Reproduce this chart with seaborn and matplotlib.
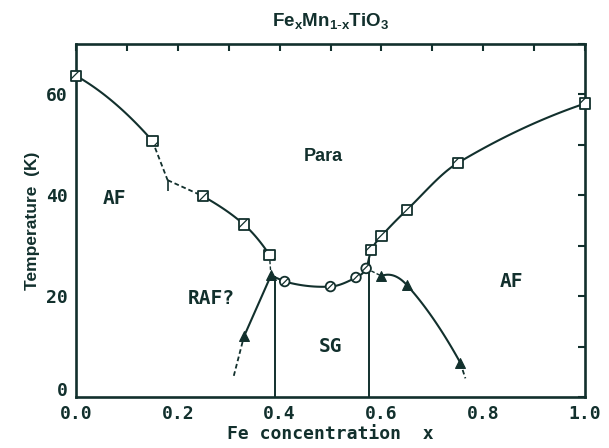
import numpy as np
import matplotlib
matplotlib.use("Agg")
import matplotlib.pyplot as plt
from matplotlib.ticker import FuncFormatter
from matplotlib.transforms import ScaledTranslation
import pandas as pd
import seaborn as sns

# ---- phase-diagram data (Fe concentration x, temperature in K) ----
# paramagnetic boundary on the Mn-rich side (squares)
para_left_x = [0.00, 0.15, 0.25, 0.33, 0.38]
para_left_T = [63.7, 50.8, 39.8, 34.2, 28.2]
# corner of the dashed stretch between x=0.15 and x=0.25, and the foot of its short drop
bend_x = 0.18
bend_T = [43.0, 40.8]
# spin-glass freezing (circles)
sg_x = [0.41, 0.50, 0.55, 0.57]
sg_T = [22.9, 21.9, 23.7, 25.5]
# paramagnetic boundary on the Fe-rich side (squares)
para_right_x = [0.58, 0.60, 0.65, 0.75, 1.00]
para_right_T = [29.1, 31.9, 37.1, 46.4, 58.2]
# reentrant transitions (triangles)
raf_left_x = [0.33, 0.383]
raf_left_T = [12.0, 24.1]
raf_right_x = [0.60, 0.65, 0.755]
raf_right_T = [24.0, 22.2, 6.8]
# dashed continuations below the lowest triangles
tail_left_x, tail_left_T = [0.31], [4.2]
tail_right_x, tail_right_T = [0.765], [3.7]
# vertical limits of the spin-glass region
sg_bound_x = [0.39, 0.575]
sg_bound_T = [24.0, 27.5]

region_text = ["Para", "AF", "RAF?", "SG", "AF"]
region_x = [0.485, 0.075, 0.265, 0.50, 0.855]
region_T = [47.7, 39.4, 19.5, 10.0, 23.0]

x_ticks = [0.0, 0.1, 0.2, 0.3, 0.4, 0.5, 0.6, 0.7, 0.8, 0.9, 1.0]
T_ticks = [0, 10, 20, 30, 40, 50, 60, 70]

INK = "#12302d"

sns.set_theme(style="white")
plt.rcParams["font.family"] = ["DejaVu Sans"]
plt.rcParams["hatch.linewidth"] = 0.9
plt.rcParams["hatch.color"] = INK


def smooth(xs, ys, n=40):
    """Cubic Hermite pieces through the points, Catmull-Rom tangents."""
    x = np.asarray(xs, float)
    y = np.asarray(ys, float)
    d = np.diff(y) / np.diff(x)
    if len(x) == 2:
        m = np.array([d[0], d[0]])
    else:
        m = np.empty_like(x)
        m[1:-1] = (y[2:] - y[:-2]) / (x[2:] - x[:-2])
        m[0] = 2 * d[0] - m[1]
        m[-1] = 2 * d[-1] - m[-2]
    t = np.linspace(0, 1, n)
    h00 = 2 * t**3 - 3 * t**2 + 1
    h10 = t**3 - 2 * t**2 + t
    h01 = -2 * t**3 + 3 * t**2
    h11 = t**3 - t**2
    pieces = []
    for i in range(len(x) - 1):
        h = x[i + 1] - x[i]
        pieces.append((x[i] + t * h,
                       h00 * y[i] + h10 * h * m[i] + h01 * y[i + 1] + h11 * h * m[i + 1]))
    return pieces


fig = plt.figure(figsize=(6.09, 4.48), dpi=100)
ax = fig.add_axes([0.1248, 0.1138, 0.9606 - 0.1248, 0.9018 - 0.1138])

lw = 1.5
dash = (0, (2.6, 1.6))

# Mn-rich paramagnetic boundary: solid, with a dashed dog-leg around x=0.18
lx = para_left_x[:2] + [bend_x] + para_left_x[2:]
lT = para_left_T[:2] + [bend_T[0]] + para_left_T[2:]
for i, (xx, yy) in enumerate(smooth(lx, lT)):
    if i in (1, 2):
        ax.plot([lx[i], lx[i + 1]], [lT[i], lT[i + 1]], color=INK, lw=1.3, ls=dash)
    else:
        ax.plot(xx, yy, color=INK, lw=lw, solid_capstyle="round")
ax.vlines(bend_x, bend_T[1], bend_T[0], color=INK, lw=1.2)

# spin-glass dome running into the Fe-rich paramagnetic boundary
for xx, yy in smooth(sg_x + para_right_x, sg_T + para_right_T):
    ax.plot(xx, yy, color=INK, lw=lw, solid_capstyle="round")

# reentrant branches
ax.plot(raf_left_x + [sg_x[0]], raf_left_T + [sg_T[0]], color=INK, lw=lw)
ax.plot(tail_left_x + raf_left_x[:1], tail_left_T + raf_left_T[:1], color=INK, lw=1.3, ls=dash)
ax.plot([para_left_x[-1], raf_left_x[-1]], [para_left_T[-1], raf_left_T[-1]],
        color=INK, lw=1.0, ls=dash)
for xx, yy in smooth(raf_right_x, raf_right_T):
    ax.plot(xx, yy, color=INK, lw=lw)
ax.plot(raf_right_x[-1:] + tail_right_x, raf_right_T[-1:] + tail_right_T, color=INK, lw=1.3, ls=dash)
ax.plot([sg_x[-1], raf_right_x[0]], [sg_T[-1], raf_right_T[0]], color=INK, lw=1.0, ls=dash)

# vertical limits of the SG region
ax.vlines(sg_bound_x, [0, 0], sg_bound_T, color=INK, lw=1.4)

# markers
squares = pd.DataFrame({"x": para_left_x + para_right_x, "T": para_left_T + para_right_T})
circles = pd.DataFrame({"x": sg_x, "T": sg_T})
triangles = pd.DataFrame({"x": raf_left_x + raf_right_x, "T": raf_left_T + raf_right_T})
sns.scatterplot(data=squares, x="x", y="T", marker="s", s=55, facecolor="white",
                edgecolor=INK, linewidth=1.3, hatch="//", zorder=5, ax=ax, clip_on=False)
sns.scatterplot(data=circles, x="x", y="T", marker="o", s=48, facecolor="white",
                edgecolor=INK, linewidth=1.3, hatch="//", zorder=5, ax=ax)
sns.scatterplot(data=triangles, x="x", y="T", marker="^", s=50, color=INK,
                edgecolor=INK, linewidth=0.8, zorder=5, ax=ax)

# region names
for txt, xv, tv in zip(region_text, region_x, region_T):
    fam = ["Liberation Sans"] if txt == "Para" else ["DejaVu Sans Mono"]
    ax.text(xv, tv, txt, ha="center", va="center", fontsize=13 if txt == "Para" else 14,
            fontweight="bold", family=fam, color=INK)

# axes frame and ticks
ax.set_xlim(0, 1.0)
ax.set_ylim(0, 70)
ax.set_xticks(x_ticks)
ax.set_yticks(T_ticks)
ax.xaxis.set_major_formatter(FuncFormatter(lambda v, p: f"{v:.1f}" if round(v * 10) % 2 == 0 else ""))
ax.yaxis.set_major_formatter(FuncFormatter(lambda v, p: f"{v:.0f}" if round(v) % 20 == 0 and v < 70 else ""))
ax.tick_params(direction="in", length=5, width=1.5, color=INK, top=True, right=True,
               labelcolor=INK, pad=6)
for lab in ax.get_xticklabels() + ax.get_yticklabels():
    lab.set_family(["DejaVu Sans Mono"])
    lab.set_fontweight("bold")
    lab.set_fontsize(13)
# lift the "0" of the temperature axis clear of the "0.0" below it
zero_lab = ax.yaxis.get_major_ticks()[0].label1
zero_lab.set_transform(zero_lab.get_transform() + ScaledTranslation(0, 6 / 72, fig.dpi_scale_trans))
for sp in ax.spines.values():
    sp.set_visible(True)
    sp.set_color(INK)
    sp.set_linewidth(1.9)

ax.set_xlabel("Fe concentration  x", family=["DejaVu Sans Mono"], fontweight="bold",
              fontsize=13, color=INK, labelpad=1)
ax.set_ylabel("Temperature  (K)", family=["Liberation Sans"], fontweight="bold",
              fontsize=12.5, color=INK, labelpad=4)
ax.set_title(r"$\mathregular{Fe_xMn_{1\text{-}x}TiO_3}$", family=["Liberation Sans"],
             fontsize=13.5, fontweight="bold", color=INK, pad=13)

fig.savefig("out.png", dpi=100)
